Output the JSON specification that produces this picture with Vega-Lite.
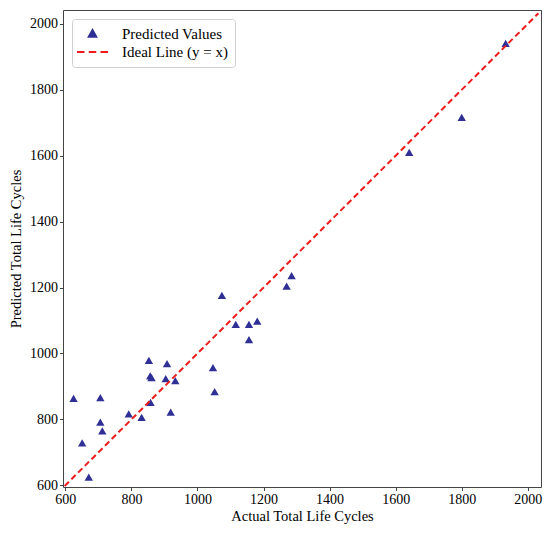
{
  "$schema": "https://vega.github.io/schema/vega-lite/v6.json",
  "width": 478,
  "height": 477,
  "autosize": {"type": "none"},
  "padding": {"left": 63, "top": 10, "right": 9, "bottom": 48},
  "background": "white",
  "datasets": {
    "points": [
      {"actual": 625, "predicted": 864, "series": "Predicted Values"},
      {"actual": 651, "predicted": 729, "series": "Predicted Values"},
      {"actual": 671, "predicted": 625, "series": "Predicted Values"},
      {"actual": 706, "predicted": 866, "series": "Predicted Values"},
      {"actual": 706, "predicted": 792, "series": "Predicted Values"},
      {"actual": 712, "predicted": 765, "series": "Predicted Values"},
      {"actual": 792, "predicted": 817, "series": "Predicted Values"},
      {"actual": 831, "predicted": 806, "series": "Predicted Values"},
      {"actual": 853, "predicted": 979, "series": "Predicted Values"},
      {"actual": 857, "predicted": 932, "series": "Predicted Values"},
      {"actual": 861, "predicted": 927, "series": "Predicted Values"},
      {"actual": 858, "predicted": 852, "series": "Predicted Values"},
      {"actual": 908, "predicted": 969, "series": "Predicted Values"},
      {"actual": 904, "predicted": 924, "series": "Predicted Values"},
      {"actual": 933, "predicted": 918, "series": "Predicted Values"},
      {"actual": 919, "predicted": 822, "series": "Predicted Values"},
      {"actual": 1047, "predicted": 957, "series": "Predicted Values"},
      {"actual": 1052, "predicted": 884, "series": "Predicted Values"},
      {"actual": 1074, "predicted": 1176, "series": "Predicted Values"},
      {"actual": 1116, "predicted": 1088, "series": "Predicted Values"},
      {"actual": 1156, "predicted": 1088, "series": "Predicted Values"},
      {"actual": 1156, "predicted": 1042, "series": "Predicted Values"},
      {"actual": 1181, "predicted": 1098, "series": "Predicted Values"},
      {"actual": 1270, "predicted": 1204, "series": "Predicted Values"},
      {"actual": 1285, "predicted": 1236, "series": "Predicted Values"},
      {"actual": 1641, "predicted": 1610, "series": "Predicted Values"},
      {"actual": 1800, "predicted": 1716, "series": "Predicted Values"},
      {"actual": 1933, "predicted": 1941, "series": "Predicted Values"}
    ],
    "ideal": [
      {"actual": 598, "predicted": 598, "series": "Ideal Line (y = x)"},
      {"actual": 2032, "predicted": 2032, "series": "Ideal Line (y = x)"}
    ]
  },
  "encoding": {
    "x": {
      "field": "actual",
      "type": "quantitative",
      "title": "Actual Total Life Cycles",
      "scale": {"domain": [593, 2040], "nice": false, "zero": false},
      "axis": {"values": [600, 800, 1000, 1200, 1400, 1600, 1800, 2000], "format": "d", "titlePadding": 3}
    },
    "y": {
      "field": "predicted",
      "type": "quantitative",
      "title": "Predicted Total Life Cycles",
      "scale": {"domain": [595, 2042], "nice": false, "zero": false},
      "axis": {"values": [600, 800, 1000, 1200, 1400, 1600, 1800, 2000], "format": "d", "titlePadding": 6}
    },
    "color": {
      "field": "series",
      "type": "nominal",
      "scale": {
        "domain": ["Predicted Values", "Ideal Line (y = x)"],
        "range": ["#2f2f95", "#ee1c1c"]
      },
      "legend": {
        "title": null,
        "orient": "top-left",
        "offset": 9,
        "padding": 7,
        "strokeColor": "#d0d0d0",
        "fillColor": "white",
        "cornerRadius": 3,
        "labelFont": "Liberation Serif",
        "labelFontSize": 15,
        "labelColor": "black",
        "labelOffset": 22,
        "rowPadding": 2.5,
        "symbolSize": 100,
        "symbolOffset": 6,
        "symbolStrokeWidth": 2,
        "encode": {
          "symbols": {
            "update": {
              "shape": [
                {"test": "datum.value === 'Predicted Values'", "value": "M0,-0.7L0.75,0.65L-0.75,0.65Z"},
                {"value": "M-3.1,0L-1.6,0M-0.75,0L0.75,0M1.6,0L3.1,0"}
              ],
              "fill": [
                {"test": "datum.value === 'Predicted Values'", "value": "#2f2f95"},
                {"value": "transparent"}
              ],
              "stroke": [
                {"test": "datum.value === 'Predicted Values'", "value": "transparent"},
                {"value": "#ee1c1c"}
              ],
              "strokeWidth": {"value": 2},
              "strokeDash": {"value": []},
              "opacity": {"value": 1}
            }
          }
        }
      }
    }
  },
  "layer": [
    {
      "data": {"name": "points"},
      "mark": {"type": "point", "shape": "triangle-up", "filled": true, "size": 70, "opacity": 1}
    },
    {
      "data": {"name": "ideal"},
      "mark": {"type": "line", "strokeDash": [6, 3.5], "strokeWidth": 2, "clip": true}
    }
  ],
  "config": {
    "view": {"stroke": "#444444", "strokeWidth": 1},
    "axis": {
      "grid": false,
      "domain": false,
      "ticks": true,
      "tickSize": 3.5,
      "tickColor": "#444444",
      "tickWidth": 1,
      "labelFont": "Liberation Serif",
      "labelFontSize": 14,
      "labelColor": "black",
      "labelPadding": 2,
      "titleFont": "Liberation Serif",
      "titleFontSize": 14.5,
      "titleFontWeight": "normal",
      "titleColor": "black"
    }
  }
}
